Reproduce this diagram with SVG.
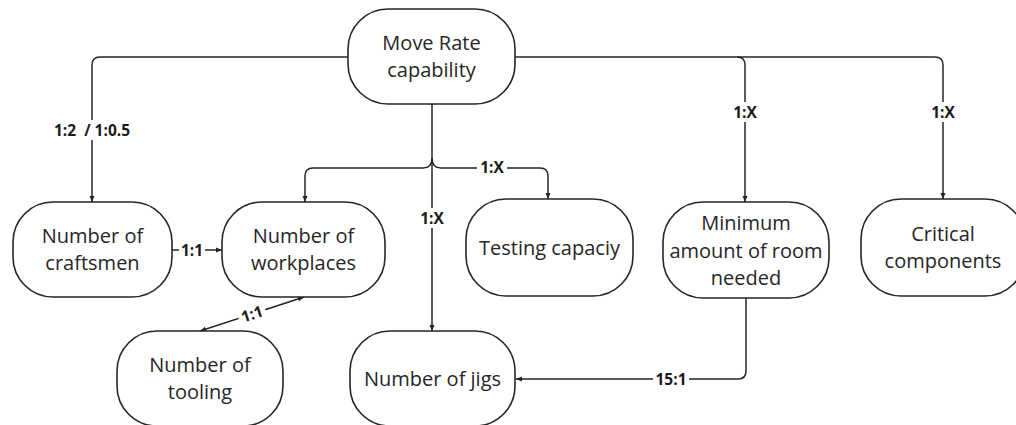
<svg xmlns="http://www.w3.org/2000/svg" width="1016" height="425" viewBox="0 0 1016 425">
<style>
.node rect{fill:#fff;stroke:#262626;stroke-width:1.6}
.node text{font-family:"Open Sans","Noto Sans",sans-serif;font-size:20px;fill:#262626;text-anchor:middle}
.conn path{fill:none;stroke:#262626;stroke-width:1.5}
.lbl rect{fill:#fff}
.lbl text{font-family:"Open Sans","Noto Sans",sans-serif;font-size:15.5px;font-weight:bold;fill:#1a1a1a;text-anchor:middle}
</style>
<defs>
<marker id="ah" markerUnits="userSpaceOnUse" markerWidth="7" markerHeight="7" viewBox="0 0 7 7" refX="6.5" refY="3.5" orient="auto-start-reverse">
<path d="M0.5,1 L6.5,3.5 L0.5,6 Z" fill="#262626"/>
</marker>
</defs>
<rect width="1016" height="425" fill="#fff"/>
<g class="conn" id="connectors">
<path d="M348,57 H100 Q92,57 92,65 V202" marker-end="url(#ah)"/>
<path d="M515,57 H935 Q943,57 943,65 V199" marker-end="url(#ah)"/>
<path d="M737,57 Q745,57 745,65 V202" marker-end="url(#ah)"/>
<path d="M432,104 V331" marker-end="url(#ah)"/>
<path d="M432,158 Q432,168 423,168 H313 Q305,168 305,176 V202" marker-end="url(#ah)"/>
<path d="M432,158 Q432,168 441,168 H540 Q548,168 548,176 V199" marker-end="url(#ah)"/>
<path d="M172,250 H222" marker-end="url(#ah)"/>
<path d="M200,331 L304,297" marker-start="url(#ah)" marker-end="url(#ah)"/>
<path d="M746,298 V371 Q746,379 738,379 H516" marker-end="url(#ah)"/>
</g>
<g class="lbl" id="labels">
<rect x="52" y="120" width="80" height="20"/><text x="92" y="135.5" xml:space="preserve">1:2  / 1:0.5</text>
<rect x="179" y="240" width="26" height="20"/><text x="192" y="255.5">1:1</text>
<g transform="translate(252,314) rotate(-18)"><rect x="-14" y="-10" width="28" height="20"/><text x="0" y="5.5">1:1</text></g>
<rect x="418" y="208" width="28" height="20"/><text x="432" y="223.5">1:X</text>
<rect x="477" y="157" width="30" height="20"/><text x="492" y="172.5">1:X</text>
<rect x="731" y="102" width="28" height="20"/><text x="745" y="117.5">1:X</text>
<rect x="929" y="102" width="28" height="20"/><text x="943" y="117.5">1:X</text>
<rect x="653" y="369" width="36" height="20"/><text x="671" y="384.5">15:1</text>
</g>
<g class="node" id="move-rate"><rect x="348" y="9" width="167" height="95" rx="40"/><text x="431.5" y="50">Move Rate</text><text x="431.5" y="77">capability</text></g>
<g class="node" id="craftsmen"><rect x="13" y="202" width="159" height="95" rx="40"/><text x="92.5" y="243">Number of</text><text x="92.5" y="270">craftsmen</text></g>
<g class="node" id="workplaces"><rect x="222" y="202" width="163" height="95" rx="40"/><text x="303.5" y="243">Number of</text><text x="303.5" y="270">workplaces</text></g>
<g class="node" id="testing"><rect x="466" y="199" width="167" height="97" rx="40"/><text x="549.5" y="254.5">Testing capaciy</text></g>
<g class="node" id="minimum"><rect x="663" y="202" width="166" height="96" rx="40"/><text x="746" y="230">Minimum</text><text x="746" y="257.5">amount of room</text><text x="746" y="285">needed</text></g>
<g class="node" id="critical"><rect x="861" y="199" width="164" height="97" rx="40"/><text x="943" y="241">Critical</text><text x="943" y="268">components</text></g>
<g class="node" id="tooling"><rect x="117" y="331" width="166" height="95" rx="40"/><text x="200" y="372">Number of</text><text x="200" y="399">tooling</text></g>
<g class="node" id="jigs"><rect x="350" y="331" width="165" height="95" rx="40"/><text x="432.5" y="385.5">Number of jigs</text></g>
</svg>
